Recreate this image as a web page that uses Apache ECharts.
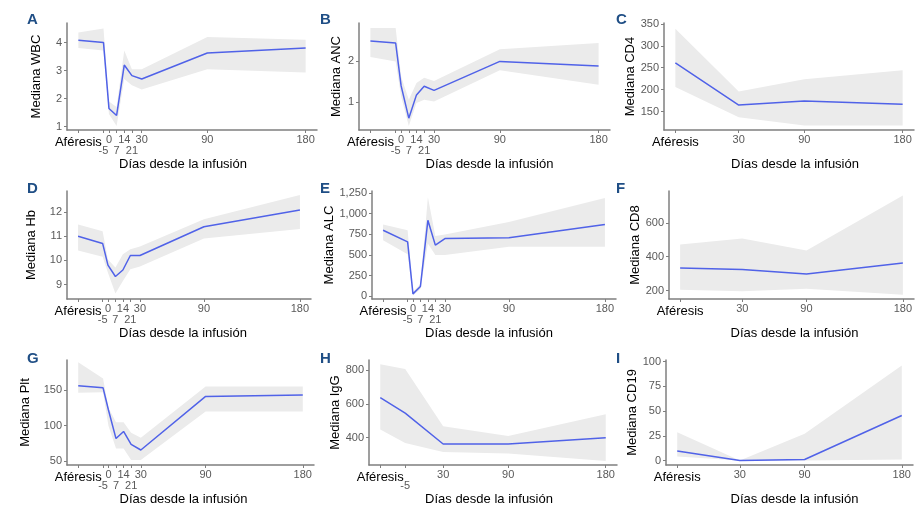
<!DOCTYPE html>
<html>
<head>
<meta charset="utf-8">
<script src="https://cdn.jsdelivr.net/npm/echarts@6/dist/echarts.min.js"></script>
<style>
  html, body { margin: 0; padding: 0; background: #fff; }
  #main { width: 917px; height: 507px; }
</style>
</head>
<body>
<div id="main"></div>
<script>
  // x position used for the "Aféresis" sample (drawn left of day -5)
  var AFERESIS = -28
  var daysFull = [AFERESIS, -5, 0, 7, 14, 21, 30, 90, 180]
  var daysShort = [AFERESIS, 30, 90, 180]
  var daysIgG = [AFERESIS, -5, 30, 90, 180]
  // these tick labels sit on a second row under the axis
  var lowerRowTicks = [-5, 7, 21]

  var wbcMed = [4.08, 4.0, 1.65, 1.4, 3.2, 2.82, 2.7, 3.63, 3.81]
  var wbcLow = [3.81, 3.72, 1.45, 1.02, 2.7, 2.48, 2.33, 3.05, 2.93]
  var wbcHigh = [4.36, 4.5, 1.9, 1.7, 3.72, 3.05, 3.05, 4.2, 4.1]

  var ancMed = [2.5, 2.45, 1.4, 0.61, 1.18, 1.39, 1.29, 2.0, 1.89]
  var ancLow = [2.11, 2.0, 1.14, 0.42, 0.98, 1.06, 1.02, 1.78, 1.43]
  var ancHigh = [2.82, 2.82, 1.63, 1.06, 1.47, 1.6, 1.52, 2.3, 2.45]

  var cd4Med = [261, 165, 174, 167]
  var cd4Low = [206, 137, 118, 118]
  var cd4High = [339, 196, 224, 244]

  var hbMed = [11.0, 10.7, 9.8, 9.33, 9.6, 10.2, 10.2, 11.39, 12.08]
  var hbLow = [10.41, 10.15, 9.49, 8.63, 9.14, 9.63, 9.74, 10.9, 11.3]
  var hbHigh = [11.48, 11.2, 10.04, 9.7, 10.25, 10.46, 10.57, 11.7, 12.7]

  var alcMed = [800, 660, 30, 120, 920, 620, 700, 710, 870]
  var alcLow = [680, 510, 10, 90, 640, 500, 500, 600, 600]
  var alcHigh = [870, 800, 60, 150, 1200, 730, 750, 900, 1190]

  var cd8Med = [334, 324, 298, 363]
  var cd8Low = [206, 196, 212, 176]
  var cd8High = [472, 507, 437, 761]

  var pltMed = [156, 153, 122, 82, 92, 74, 66, 141, 143]
  var pltLow = [146, 147, 100, 68, 68, 52, 52, 120, 120]
  var pltHigh = [189, 166, 125, 105, 105, 90, 83, 155, 155]

  var iggMed = [638, 546, 363, 363, 400]
  var iggLow = [449, 369, 316, 306, 262]
  var iggHigh = [837, 808, 468, 410, 540]

  var cd19Med = [9.7, 0, 1, 45.5]
  var cd19Low = [4.2, 0, 0, 1]
  var cd19High = [28.6, 0, 27, 96]

  var panels = [
    {letter: 'A', yName: 'Mediana WBC', x: daysFull, med: wbcMed, lo: wbcLow, hi: wbcHigh, yTicks: [1, 2, 3, 4], yMin: 0.88, yMax: 4.7, box: [67, 23, 250, 107], gap: 24, shift: -9},
    {letter: 'B', yName: 'Mediana ANC', x: daysFull, med: ancMed, lo: ancLow, hi: ancHigh, yTicks: [1, 2], yMin: 0.32, yMax: 2.94, box: [359, 23, 251, 107], gap: 16, shift: 5},
    {letter: 'C', yName: 'Mediana CD4', x: daysShort, med: cd4Med, lo: cd4Low, hi: cd4High, yTicks: [150, 200, 250, 300, 350], yMin: 108, yMax: 352, box: [664, 23, 250, 107], gap: 26, shift: 6},
    {letter: 'D', yName: 'Mediana Hb', x: daysFull, med: hbMed, lo: hbLow, hi: hbHigh, yTicks: [9, 10, 11, 12], yMin: 8.4, yMax: 12.87, box: [67, 191, 244, 108], gap: 29, shift: -6},
    {letter: 'E', yName: 'Mediana ALC', x: daysFull, med: alcMed, lo: alcLow, hi: alcHigh, yTicks: [0, 250, 500, 750, 1000, 1250], yMin: -32, yMax: 1275, box: [372, 191, 244, 108], gap: 31, shift: -5},
    {letter: 'F', yName: 'Mediana CD8', x: daysShort, med: cd8Med, lo: cd8Low, hi: cd8High, yTicks: [200, 400, 600], yMin: 151, yMax: 787, box: [669, 191, 245, 108], gap: 27, shift: 3},
    {letter: 'G', yName: 'Mediana Plt', x: daysFull, med: pltMed, lo: pltLow, hi: pltHigh, yTicks: [50, 100, 150], yMin: 45, yMax: 192, box: [67, 360, 247, 107], gap: 35, shift: -7},
    {letter: 'H', yName: 'Mediana IgG', x: daysIgG, med: iggMed, lo: iggLow, hi: iggHigh, yTicks: [400, 600, 800], yMin: 238, yMax: 862, box: [369, 360, 248, 107], gap: 27, shift: -4},
    {letter: 'I', yName: 'Mediana CD19', x: daysShort, med: cd19Med, lo: cd19Low, hi: cd19High, yTicks: [0, 25, 50, 75, 100], yMin: -4.5, yMax: 101.6, box: [666, 360, 247, 107], gap: 24, shift: 5}
  ]

  var font = 'Liberation Sans, Arial, sans-serif'
  var axisGray = '#7f7f7f'
  var tickGray = '#595959'
  var xMin = AFERESIS - 10.4
  var xMax = 190.4

  function xLabel (v) {
    if (v === AFERESIS) return '{a|Aféresis}'
    return '{n|' + v + '}'
  }

  function yLabel (v) {
    return v >= 1000 ? echarts.format.addCommas(v) : String(v)
  }

  // the grey band is one polygon: upper edge left to right, lower edge back
  function ribbonRenderer (p) {
    return function (params, api) {
      var pts = []
      p.x.forEach(function (d, j) { pts.push(api.coord([d, p.hi[j]])) })
      for (var j = p.x.length - 1; j >= 0; j--) pts.push(api.coord([p.x[j], p.lo[j]]))
      return {
        type: 'polygon',
        shape: {points: pts},
        style: {fill: '#ebebeb', stroke: null}
      }
    }
  }

  var grids = []
  var xAxes = []
  var auxAxes = []
  var yAxes = []
  var series = []
  var graphics = []

  panels.forEach(function (p, i) {
    var upper = p.x.filter(function (d) { return lowerRowTicks.indexOf(d) < 0 })
    var lower = p.x.filter(function (d) { return lowerRowTicks.indexOf(d) >= 0 })

    grids.push({left: p.box[0], top: p.box[1], width: p.box[2], height: p.box[3], containLabel: false})

    xAxes.push({
      type: 'value',
      gridIndex: i,
      position: 'bottom',
      min: xMin,
      max: xMax,
      splitLine: {show: false},
      axisLine: {show: true, onZero: false, lineStyle: {color: axisGray, width: 1.5}},
      axisTick: {show: true, length: 3, customValues: p.x, lineStyle: {color: axisGray}},
      axisLabel: {
        customValues: upper,
        showMinLabel: true,
        showMaxLabel: true,
        margin: 4,
        formatter: xLabel,
        rich: {
          a: {fontFamily: font, fontSize: 13, color: '#000', lineHeight: 14, padding: [2, 0, 0, 0]},
          n: {fontFamily: font, fontSize: 11, color: tickGray, lineHeight: 11}
        }
      },
      name: 'Días desde la infusión',
      nameLocation: 'middle',
      nameGap: 28,
      nameTextStyle: {
        fontFamily: font,
        fontSize: 13,
        color: '#000',
        padding: p.shift > 0 ? [0, 0, 0, p.shift * 2] : [0, -p.shift * 2, 0, 0]
      }
    })

    // second row of tick labels on an extra axis in the same grid
    if (lower.length) {
      auxAxes.push({
        type: 'value',
        gridIndex: i,
        position: 'bottom',
        min: xMin,
        max: xMax,
        splitLine: {show: false},
        axisLine: {show: false, onZero: false},
        axisTick: {show: false},
        axisLabel: {
          customValues: lower,
          showMinLabel: true,
          showMaxLabel: true,
          margin: 15,
          fontFamily: font,
          fontSize: 11,
          color: tickGray
        }
      })
    }

    yAxes.push({
      type: 'value',
      gridIndex: i,
      min: p.yMin,
      max: p.yMax,
      splitLine: {show: false},
      axisLine: {show: true, onZero: false, lineStyle: {color: axisGray, width: 1.5}},
      axisTick: {show: true, length: 3, customValues: p.yTicks, lineStyle: {color: axisGray}},
      axisLabel: {customValues: p.yTicks, margin: 5, fontFamily: font, fontSize: 11, color: tickGray, formatter: yLabel},
      name: p.yName,
      nameLocation: 'middle',
      nameGap: p.gap,
      nameTextStyle: {fontFamily: font, fontSize: 13, color: '#000'}
    })

    series.push({
      type: 'custom',
      xAxisIndex: i,
      yAxisIndex: i,
      silent: true,
      clip: true,
      renderItem: ribbonRenderer(p),
      data: [[p.x[0], p.med[0]]]
    })
    series.push({
      type: 'line',
      xAxisIndex: i,
      yAxisIndex: i,
      symbol: 'none',
      silent: true,
      lineStyle: {color: '#5062e8', width: 1.5},
      data: p.x.map(function (d, j) { return [d, p.med[j]] })
    })

    graphics.push({
      type: 'text',
      left: [27, 320, 616, 27, 320, 616, 27, 320, 616][i],
      top: [12, 12, 12, 181, 181, 181, 351, 351, 351][i],
      style: {text: p.letter, fontFamily: font, fontWeight: 'bold', fontSize: 15, fill: '#1f4e85'}
    })
  })

  var chart = echarts.init(document.getElementById('main'))
  chart.setOption({
    animation: false,
    grid: grids,
    xAxis: xAxes.concat(auxAxes),
    yAxis: yAxes,
    series: series,
    graphic: graphics
  })
</script>
</body>
</html>
